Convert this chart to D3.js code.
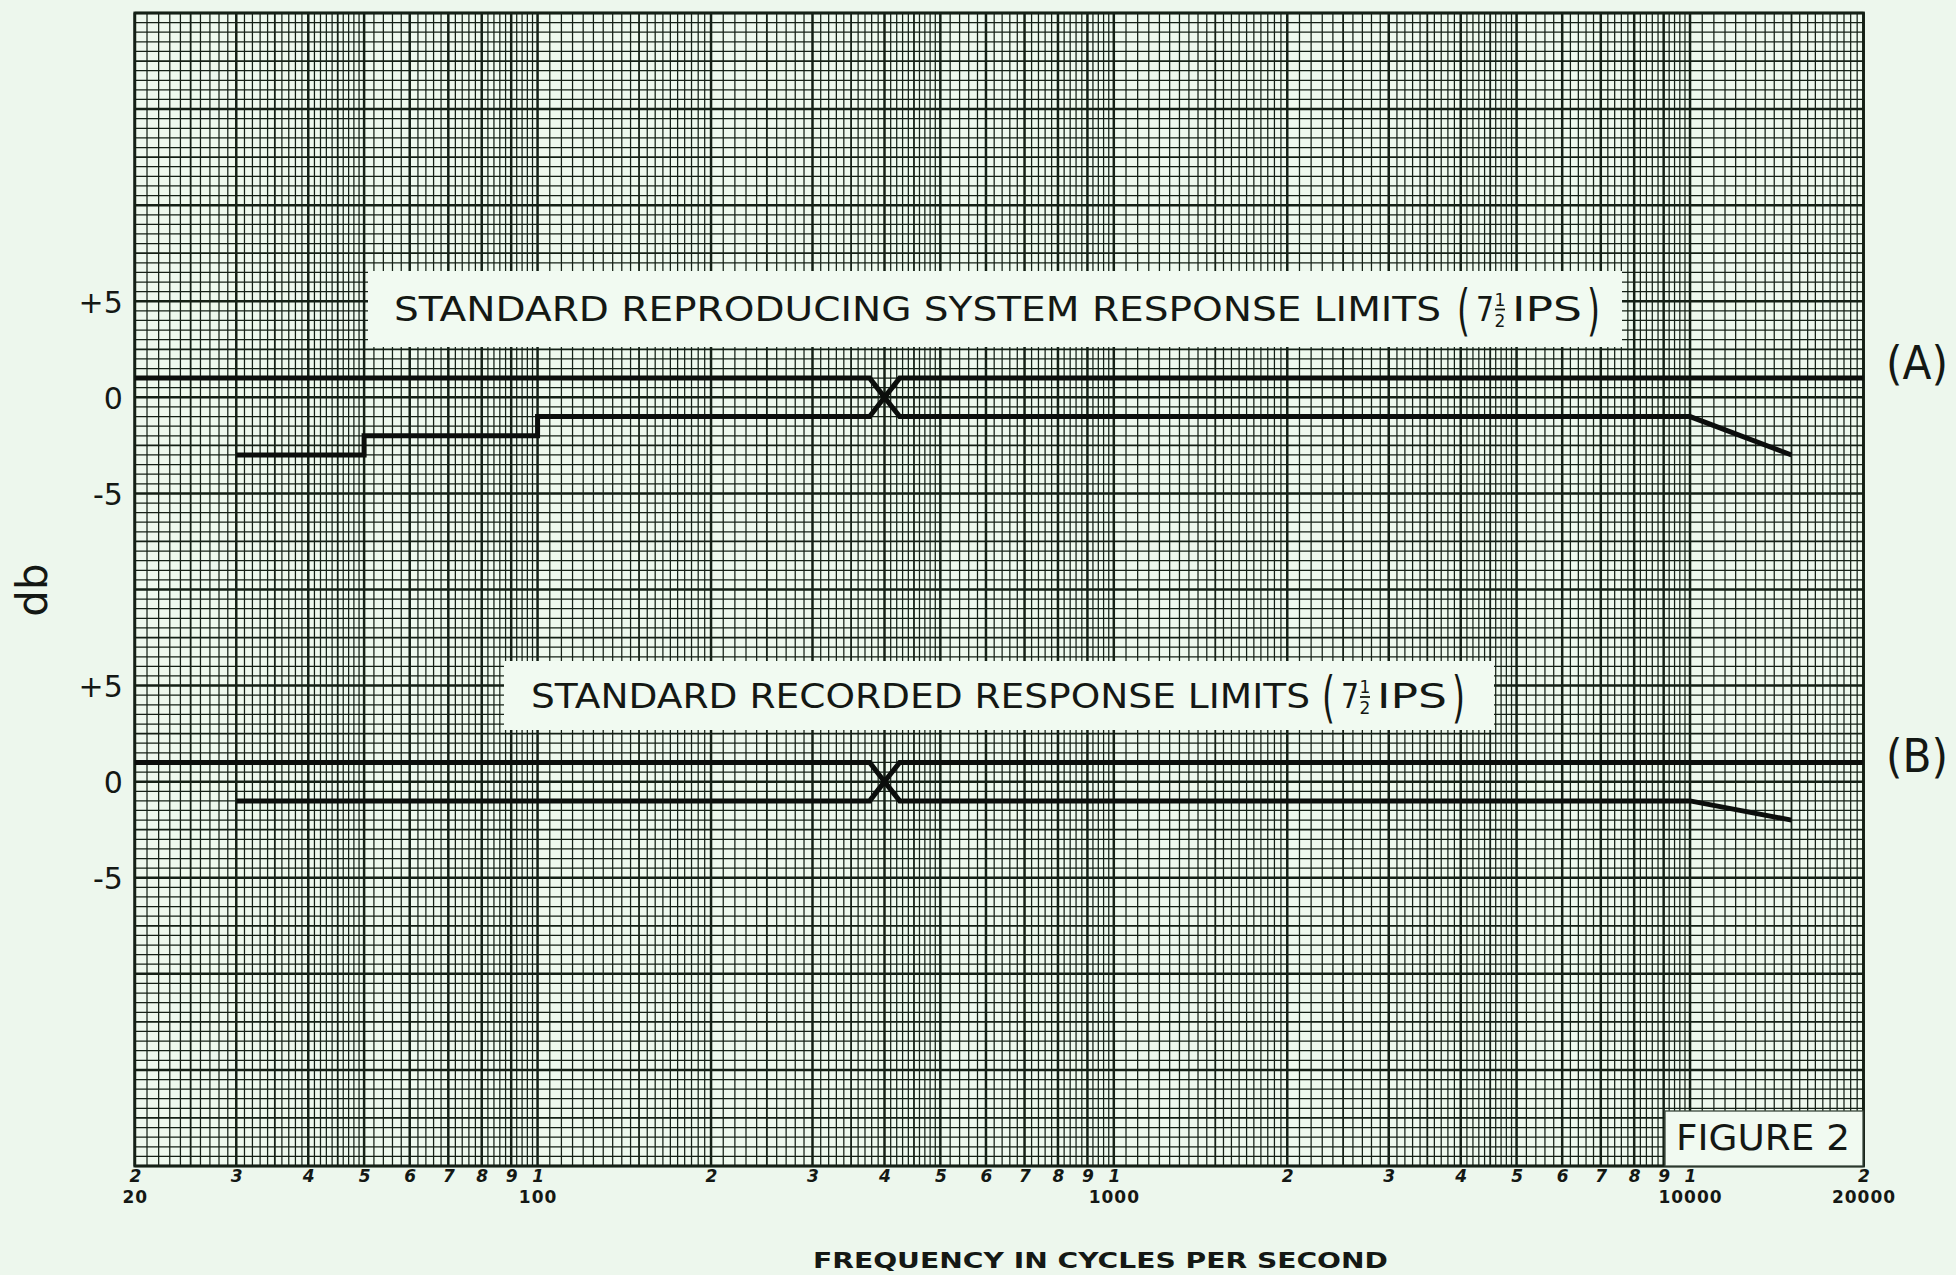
<!DOCTYPE html>
<html>
<head>
<meta charset="utf-8">
<script src="https://cdn.jsdelivr.net/npm/d3@7"></script>
<style>
  body { margin: 0; background: #edf7ed; }
  svg { display: block; }
  .letter { font-family: "DejaVu Sans", sans-serif; fill: #141814; }
  .tickdigit text { font-family: "DejaVu Sans", sans-serif; font-weight: bold; font-style: italic; fill: #141814; }
  .decade text { font-family: "DejaVu Sans", sans-serif; font-weight: bold; fill: #141814; }
  .dbaxis text { font-family: "DejaVu Sans", sans-serif; fill: #141814; }
</style>
</head>
<body>
<svg id="chart" width="1956" height="1275"></svg>
<script>
// ── Data ──────────────────────────────────────────────────────────────────────
const decadeLabels = [20, 100, 1000, 10000, 20000];
const digitTicks   = [20, 30, 40, 50, 60, 70, 80, 90, 100,
                      200, 300, 400, 500, 600, 700, 800, 900, 1000,
                      2000, 3000, 4000, 5000, 6000, 7000, 8000, 9000, 10000, 20000];
const dbTicks      = [5, 0, -5];

// (A) standard reproducing system response limits
const reproUpperFreq = [20, 377, 400, 425, 20000];
const reproUpperDb   = [1, 1, 0, 1, 1];
const reproLowerFreq = [30, 50, 50, 100, 100, 377, 400, 425, 10000, 15000];
const reproLowerDb   = [-3, -3, -2, -2, -1, -1, 0, -1, -1, -3];

// (B) standard recorded response limits
const recordUpperFreq = [20, 377, 400, 425, 20000];
const recordUpperDb   = [1, 1, 0, 1, 1];
const recordLowerFreq = [30, 377, 400, 425, 10000, 15000];
const recordLowerDb   = [-1, -1, 0, -1, -1, -2];

// ── Layout ────────────────────────────────────────────────────────────────────
const PLOT = { left: 134.8, right: 1863.5, top: 13, bottom: 1166 };
const PAPER = '#eef9ee';
const INK   = '#142016';

const svg = d3.select('#chart');
svg.append('rect').attr('width', 1956).attr('height', 1275).attr('fill', '#edf7ed');

const x = d3.scaleLog().domain([20, 20000]).range([PLOT.left, PLOT.right]);
// the sheet is ruled in 5 dB bands; panel A sits with 0 dB on the 4th heavy line
const yPaper = d3.scaleLinear().domain([-40, 20]).range([PLOT.bottom, PLOT.top]);
const yA = yPaper.copy();
const yB = yPaper.copy().domain([-20, 40]);

// ── Graph paper ───────────────────────────────────────────────────────────────
svg.append('rect')
  .attr('x', PLOT.left).attr('y', PLOT.top)
  .attr('width', PLOT.right - PLOT.left).attr('height', PLOT.bottom - PLOT.top)
  .attr('fill', PAPER);

function verticalRulings() {
  const out = [];
  [10, 100, 1000, 10000].forEach(dec => {
    const add = (from, to, step) => {
      for (let m = from; m < to - 1e-9; m += step) {
        const mm = Math.round(m * 100) / 100;
        const f = mm * dec;
        if (f < 20 - 1e-6 || f > 20000 + 1e-6) continue;
        let w = 'minor';
        if (Math.abs(mm - Math.round(mm)) < 1e-6) w = 'major';
        else if ([1.5, 2.5, 3.5, 4.5].some(h => Math.abs(mm - h) < 1e-6)) w = 'mid';
        out.push({ f, w });
      }
    };
    add(1, 2, 0.05);
    add(2, 5, 0.1);
    add(5, 10, 0.2);
  });
  return out;
}

function horizontalRulings() {
  const out = [];
  for (let k = 0; k <= 120; k++) {
    const v = -40 + k * 0.5;
    out.push({ v, w: k % 10 === 0 ? 'major' : (k % 5 === 0 ? 'mid' : 'minor') });
  }
  return out;
}

const WIDTH = { minor: 1.25, mid: 1.8, major: 2.5 };
const grid = svg.append('g').attr('class', 'grid').attr('stroke', INK);

grid.selectAll('line.h')
  .data(horizontalRulings())
  .join('line').attr('class', 'h')
  .attr('x1', PLOT.left).attr('x2', PLOT.right)
  .attr('y1', d => yPaper(d.v)).attr('y2', d => yPaper(d.v))
  .attr('stroke-width', d => WIDTH[d.w]);

grid.selectAll('line.v')
  .data(verticalRulings())
  .join('line').attr('class', 'v')
  .attr('x1', d => x(d.f)).attr('x2', d => x(d.f))
  .attr('y1', PLOT.top).attr('y2', PLOT.bottom)
  .attr('stroke-width', d => WIDTH[d.w]);

svg.append('rect')
  .attr('x', PLOT.left).attr('y', PLOT.top)
  .attr('width', PLOT.right - PLOT.left).attr('height', PLOT.bottom - PLOT.top)
  .attr('fill', 'none').attr('stroke', INK).attr('stroke-width', 2.8);

// ── Lettering boxes (paste-ups over the ruling) ──────────────────────────────
const boxes = svg.append('g');
function pasteUp(x0, y0, w, h, border) {
  boxes.append('rect')
    .attr('x', x0).attr('y', y0).attr('width', w).attr('height', h)
    .attr('fill', '#f1faf1')
    .attr('stroke', border ? '#3a483c' : 'none')
    .attr('stroke-width', border ? 1.3 : 0);
}
pasteUp(368, 271, 1254, 76, false);
pasteUp(504, 661, 990, 69, false);
pasteUp(1665, 1111, 198, 55, true);

function letter(txt, x0, base, size, len, anchor) {
  const t = boxes.append('text').attr('class', 'letter')
    .attr('x', x0).attr('y', base)
    .attr('font-size', size)
    .attr('text-anchor', anchor || 'start')
    .text(txt);
  if (len) t.attr('textLength', len).attr('lengthAdjust', 'spacingAndGlyphs');
  return t;
}

function ipsTag(x0, base) {
  // (7½ IPS) with a stacked fraction
  letter('(', x0, base + 8, 56, 13);
  letter('7', x0 + 19, base, 34, 18);
  letter('1', x0 + 43, base - 15, 17, null, 'middle');
  boxes.append('line')
    .attr('x1', x0 + 38).attr('x2', x0 + 48)
    .attr('y1', base - 11).attr('y2', base - 11)
    .attr('stroke', '#141814').attr('stroke-width', 1.8);
  letter('2', x0 + 43, base + 6, 17, null, 'middle');
  letter('IPS', x0 + 55, base, 34, 70);
  letter(')', x0 + 130, base + 8, 56, 13);
}

letter('STANDARD REPRODUCING SYSTEM RESPONSE LIMITS', 394, 320.5, 34, 1047);
ipsTag(1457, 320.5);
letter('STANDARD RECORDED RESPONSE LIMITS', 531, 708, 34, 779);
ipsTag(1322, 708);
letter('FIGURE 2', 1676, 1150, 35, 174);

letter('(A)', 1917, 379, 46, 62, 'middle');
letter('(B)', 1917, 772, 46, 62, 'middle');

svg.append('text').attr('class', 'letter')
  .attr('transform', 'translate(32,590) rotate(-90)')
  .attr('text-anchor', 'middle').attr('dominant-baseline', 'central')
  .attr('font-size', 42)
  .text('db');

// ── Response limit curves ─────────────────────────────────────────────────────
function curve(freqs, dbs) {
  return freqs.map((f, i) => ({ f, db: dbs[i] }));
}
const series = [
  { pts: curve(reproUpperFreq, reproUpperDb),   y: yA },
  { pts: curve(reproLowerFreq, reproLowerDb),   y: yA },
  { pts: curve(recordUpperFreq, recordUpperDb), y: yB },
  { pts: curve(recordLowerFreq, recordLowerDb), y: yB },
];
const curves = svg.append('g')
  .attr('fill', 'none').attr('stroke', '#0b0e0c')
  .attr('stroke-width', 5).attr('stroke-linejoin', 'miter');
series.forEach(s => {
  curves.append('path')
    .attr('d', d3.line().x(d => x(d.f)).y(d => s.y(d.db))(s.pts));
});

// ── Axes ──────────────────────────────────────────────────────────────────────
const mantissa = v => Math.round(v / Math.pow(10, Math.floor(Math.log10(v) + 1e-9)));

svg.append('g').attr('class', 'tickdigit')
  .attr('transform', `translate(0,${PLOT.bottom})`)
  .call(d3.axisBottom(x).tickValues(digitTicks).tickFormat(mantissa).tickSize(0).tickPadding(4))
  .call(g => g.select('.domain').remove())
  .call(g => g.selectAll('text').attr('font-size', 17));

svg.append('g').attr('class', 'decade')
  .attr('transform', `translate(0,${PLOT.bottom})`)
  .call(d3.axisBottom(x).tickValues(decadeLabels).tickFormat(d3.format('d')).tickSize(0).tickPadding(25))
  .call(g => g.select('.domain').remove())
  .call(g => g.selectAll('text').attr('font-size', 17).attr('letter-spacing', 1));

const dbFormat = v => v > 0 ? '+' + v : String(v);
[yA, yB].forEach(scale => {
  svg.append('g').attr('class', 'dbaxis')
    .attr('transform', `translate(${PLOT.left},0)`)
    .call(d3.axisLeft(scale).tickValues(dbTicks).tickFormat(dbFormat).tickSize(0).tickPadding(12))
    .call(g => g.select('.domain').remove())
    .call(g => g.selectAll('text').attr('font-size', 30).attr('dy', '0.36em'));
});

svg.append('text')
  .attr('x', 813).attr('y', 1268)
  .attr('font-family', '"DejaVu Sans", sans-serif').attr('font-weight', 'bold')
  .attr('font-size', 21).attr('fill', '#141814')
  .attr('textLength', 575).attr('lengthAdjust', 'spacingAndGlyphs')
  .text('FREQUENCY IN CYCLES PER SECOND');
</script>
</body>
</html>
